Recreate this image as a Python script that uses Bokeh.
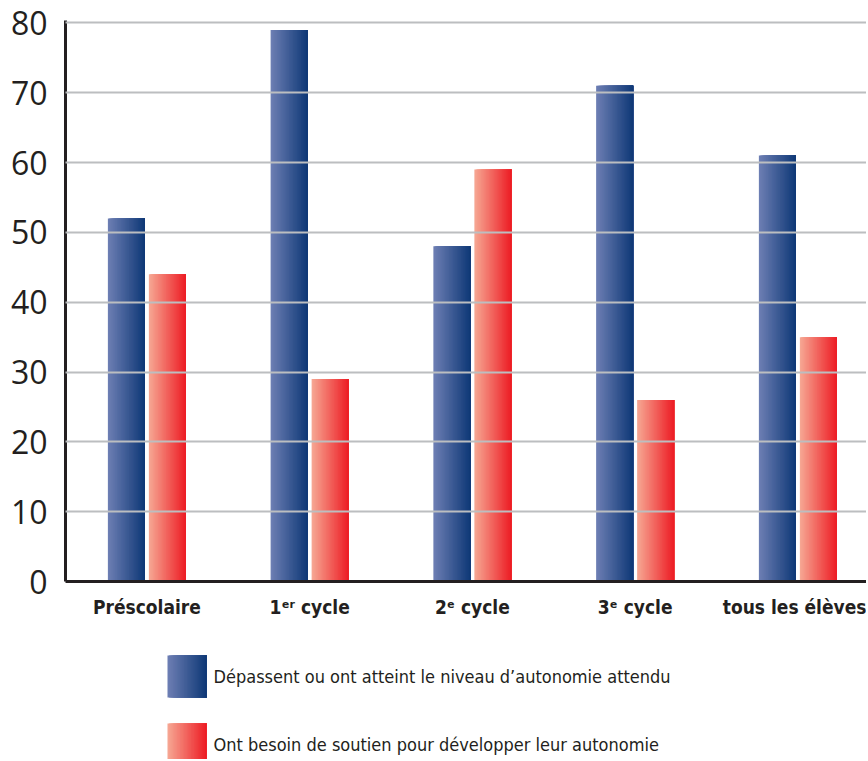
import numpy as np
from bokeh.plotting import figure
from bokeh.models import Range1d, FixedTicker
from bokeh.layouts import column
from bokeh.embed import file_html
from bokeh.resources import INLINE
from bokeh.core.properties import value

# ---- data ----
categories = ["Préscolaire", "1ᵉʳ cycle", "2ᵉ cycle", "3ᵉ cycle", "tous les élèves"]
atteint = [52, 79, 48, 71, 61]
soutien = [44, 29, 59, 26, 35]
y_ticks = [0, 10, 20, 30, 40, 50, 60, 70, 80]
legend_labels = [
    "Dépassent ou ont atteint le niveau d’autonomie attendu",
    "Ont besoin de soutien pour développer leur autonomie",
]

# ---- styles ----
BLUE_GRAD = ((110, 127, 180), (14, 56, 118))
RED_GRAD = ((246, 168, 148), (237, 28, 36))
TEXT = "#231f20"
GRID = "#bcbec0"
COND = "DejaVu Sans Condensed, Roboto"
N = 28


def grad_color(grad, t):
    a, b = grad
    c = [int(round(a[j] + (b[j] - a[j]) * t)) for j in range(3)]
    return "#%02x%02x%02x" % tuple(c)


W = 866
FRAME_LEFT = 65
UNIT = 162.75
x_start = -0.5
x_end = x_start + (W - FRAME_LEFT) / UNIT

p = figure(width=W, height=632, x_range=Range1d(x_start, x_end), y_range=Range1d(0, 80.35),
           output_backend="svg", toolbar_location=None,
           min_border_left=FRAME_LEFT, min_border_right=0, min_border_top=20, min_border_bottom=51)
p.outline_line_color = None
p.background_fill_color = "white"
p.border_fill_color = "white"

bw = 37 / UNIT
off = 20.5 / UNIT

lefts, rights, tops, colors = [], [], [], []
for i in range(len(categories)):
    for val, c_off, grad in ((atteint[i], -off, BLUE_GRAD), (soutien[i], off, RED_GRAD)):
        bl = i + c_off - bw / 2
        br = i + c_off + bw / 2
        for k in range(N):
            lefts.append(bl + k * bw / N)
            rights.append(br)
            tops.append(val)
            colors.append(grad_color(grad, (k + 0.5) / N))

p.quad(left=lefts, right=rights, top=tops, bottom=0, fill_color=colors, line_color=None)

# grid drawn over the bars
p.xgrid.visible = False
p.ygrid.ticker = FixedTicker(ticks=y_ticks[1:])
p.ygrid.grid_line_color = GRID
p.ygrid.grid_line_width = 2.2
p.ygrid.level = "annotation"

p.yaxis.ticker = FixedTicker(ticks=y_ticks)
p.yaxis.axis_line_width = 3
p.yaxis.axis_line_color = TEXT
p.yaxis.major_tick_line_color = None
p.yaxis.minor_tick_line_color = None
p.yaxis.major_label_text_font = "Open Sans"
p.yaxis.major_label_text_font_size = "32px"
p.yaxis.major_label_text_color = TEXT
p.yaxis.major_label_standoff = 12

p.xaxis.ticker = FixedTicker(ticks=list(range(len(categories))))
p.xaxis.major_label_overrides = {i: c for i, c in enumerate(categories)}
p.xaxis.axis_line_width = 3
p.xaxis.axis_line_color = TEXT
p.xaxis.major_tick_line_color = None
p.xaxis.minor_tick_line_color = None
p.xaxis.major_label_text_font = COND
p.xaxis.major_label_text_font_style = "bold"
p.xaxis.major_label_text_font_size = "19px"
p.xaxis.major_label_text_color = TEXT
p.xaxis.major_label_standoff = 8

# ---- legend panel (page pixel coordinates; frame aligned with the chart's frame) ----
lg = figure(width=W, height=127, x_range=Range1d(FRAME_LEFT, W), y_range=Range1d(759, 632),
            output_backend="svg", toolbar_location=None, x_axis_type=None, y_axis_type=None,
            min_border_left=FRAME_LEFT, min_border_right=0, min_border_top=0, min_border_bottom=0)
lg.outline_line_color = None
lg.grid.visible = False

sw_left, sw_right = 167, 206
sw_rows = [(655, 697), (723, 761)]
L, R, T, B, C = [], [], [], [], []
for (top, bot), grad in zip(sw_rows, (BLUE_GRAD, RED_GRAD)):
    for k in range(N):
        L.append(sw_left + k * (sw_right - sw_left) / N)
        R.append(sw_right)
        T.append(top)
        B.append(bot)
        C.append(grad_color(grad, (k + 0.5) / N))
lg.quad(left=L, right=R, top=T, bottom=B, fill_color=C, line_color=None)
lg.text(x=[213, 213], y=[676, 744], text=legend_labels, text_font=value(COND),
        text_font_size="18px", text_color=TEXT, text_baseline="middle", text_align="left")

layout = column(p, lg, spacing=0)
open("out.html", "w").write(file_html(layout, INLINE))
